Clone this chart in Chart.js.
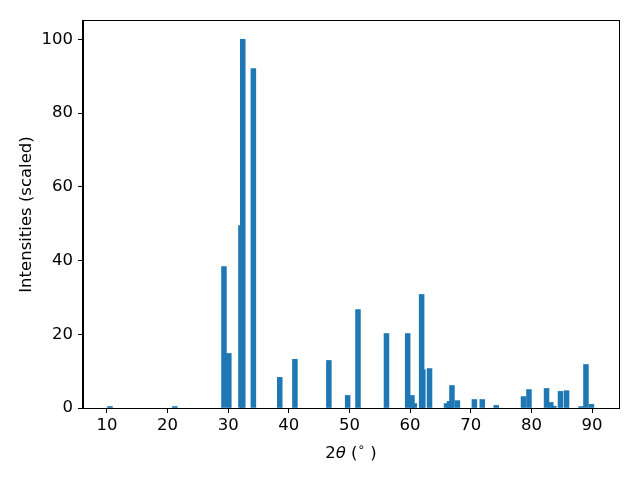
<!DOCTYPE html>
<html>
<head>
<meta charset="utf-8">
<script src="https://cdn.jsdelivr.net/npm/chart.js@4"></script>
<style>
  html, body { margin: 0; padding: 0; background: #fff; }
  #wrap { width: 640px; height: 480px; }
</style>
</head>
<body>
<div id="wrap"><canvas id="xrd" width="640" height="480"></canvas></div>
<script>
// peak positions (2theta, degrees) and scaled intensities
const twoTheta = [10.5, 21.2, 29.3, 30.1, 32.1, 32.4, 34.15, 38.5, 41.0, 46.6,
  49.7, 51.4, 56.1, 59.6, 60.3, 60.7, 61.9, 62.1, 63.2, 66.0,
  66.5, 66.9, 67.8, 70.6, 71.9, 74.2, 78.7, 79.6, 82.5, 83.2,
  83.7, 84.8, 85.8, 88.2, 89.0, 89.9];
const intensities = [0.4, 0.4, 38.4, 14.8, 49.5, 100, 92.1, 8.3, 13.2, 12.9,
  3.4, 26.7, 20.2, 20.2, 3.4, 1.2, 30.8, 10.4, 10.7, 1.2,
  1.8, 6.1, 2.0, 2.3, 2.3, 0.7, 3.1, 5.0, 5.3, 1.5,
  0.5, 4.5, 4.7, 0.4, 11.8, 1.0];
const xTicks = [10, 20, 30, 40, 50, 60, 70, 80, 90];
const yTicks = [0, 20, 40, 60, 80, 100];

const FONT = 'DejaVu Sans';
const FS = 16.5;

// frame + axis labels, drawn like matplotlib
const frame = {
  id: 'frame',
  afterDraw(chart) {
    const { ctx, chartArea: a } = chart;
    ctx.save();
    ctx.strokeStyle = '#000';
    ctx.lineWidth = 1;
    ctx.strokeRect(Math.round(a.left) - 0.5, Math.round(a.top) - 0.5,
      Math.round(a.right - a.left) + 1, Math.round(a.bottom - a.top) + 1);

    ctx.fillStyle = '#000';
    ctx.textBaseline = 'alphabetic';
    // x label: 2θ (°)
    const parts = [
      { t: '2', f: FS + 'px "' + FONT + '"', dy: 0 },
      { t: 'θ', f: 'italic ' + FS + 'px "' + FONT + '"', dy: 0 },
      { t: ' (', f: FS + 'px "' + FONT + '"', dy: 0 },
      { t: '∘', f: '12px "' + FONT + '"', dy: -7 },
      { t: ' )', f: FS + 'px "' + FONT + '"', dy: 0 }
    ];
    let total = 0;
    parts.forEach(p => { ctx.font = p.f; p.w = ctx.measureText(p.t).width; total += p.w; });
    let x = (a.left + a.right) / 2 - total / 2;
    const base = 458;
    ctx.textAlign = 'left';
    parts.forEach(p => { ctx.font = p.f; ctx.fillText(p.t, x, base + p.dy); x += p.w; });

    // y label
    ctx.font = FS + 'px "' + FONT + '"';
    ctx.translate(31, (a.top + a.bottom) / 2);
    ctx.rotate(-Math.PI / 2);
    ctx.textAlign = 'center';
    ctx.fillText('Intensities (scaled)', 0, 0);
    ctx.restore();
  }
};

new Chart(document.getElementById('xrd'), {
  type: 'bar',
  data: {
    datasets: [{
      data: twoTheta.map((t, i) => ({ x: t, y: intensities[i] })),
      backgroundColor: '#1f77b4',
      borderWidth: 0,
      barThickness: 4.86
    }]
  },
  options: {
    responsive: false,
    animation: false,
    layout: { padding: { top: 21, right: 21, left: 0, bottom: 0 } },
    plugins: { legend: { display: false }, tooltip: { enabled: false } },
    scales: {
      x: {
        type: 'linear',
        offset: false,
        min: 6.05,
        max: 94.45,
        afterBuildTicks: s => { s.ticks = xTicks.map(v => ({ value: v })); },
        afterFit: s => { s.height = 72; },
        grid: { display: true, offset: false, drawOnChartArea: false, drawTicks: true, tickLength: 5, color: '#000' },
        border: { display: true, color: '#000', width: 1 },
        ticks: { color: '#000', padding: 3, font: { family: FONT, size: FS }, maxRotation: 0 }
      },
      y: {
        min: 0,
        max: 105,
        afterBuildTicks: s => { s.ticks = yTicks.map(v => ({ value: v })); },
        afterFit: s => { s.width = 83; },
        grid: { display: true, drawOnChartArea: false, drawTicks: true, tickLength: 5, color: '#000' },
        border: { display: true, color: '#000', width: 1 },
        ticks: { color: '#000', padding: 5, font: { family: FONT, size: FS } }
      }
    }
  },
  plugins: [frame]
});
</script>
</body>
</html>
